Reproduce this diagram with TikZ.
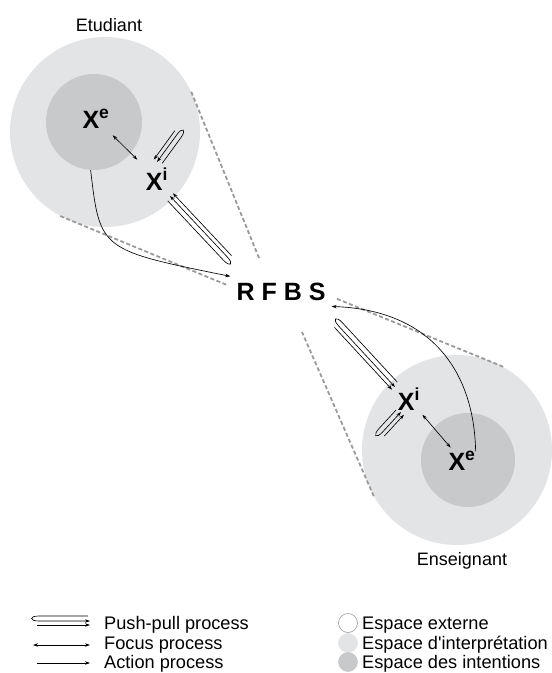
\documentclass[tikz,border=0pt]{standalone}
\usepackage{fontspec}
\setmainfont{Liberation Sans}
\usetikzlibrary{arrows.meta,calc}
\definecolor{interp}{HTML}{E3E4E6}
\definecolor{intent}{HTML}{C8C9CB}
\definecolor{conegray}{HTML}{9A9A9A}
% loop + straight line, from #1 (loop end) to #2 (arrow end)
\newcommand{\pushpull}[2]{%
 \draw[flow,->] ($(#2)!2pt!(#1)!5pt!-90:(#1)$) -- ($(#1)!7pt!(#2)!5pt!90:(#2)$)
   .. controls ($(#1)!-3pt!(#2)!5pt!90:(#2)$) and ($(#1)!-3pt!(#2)$) .. ($(#1)!7pt!(#2)$) -- (#2);
 \draw[flow,->] ($(#1)!5pt!(#2)!4pt!-90:(#2)$) -- ($(#2)!4pt!90:(#1)$);}

\begin{document}
\begin{tikzpicture}[x=1pt,y=-1pt, >={Stealth[length=5pt,width=3.4pt]},
 flow/.style={line width=.65pt},
 focus/.style={flow,<->}, action/.style={flow,->},
 conic/.style={draw=conegray,line width=1.8pt,dash pattern=on 4pt off 2.5pt},
 space/.style={circle,inner sep=0pt,minimum size=#1},
 var/.style={font=\fontsize{25}{25}\selectfont\bfseries,inner sep=0pt,anchor=base},
 role/.style={font=\fontsize{18}{20}\selectfont,inner sep=0pt},
 legtext/.style={font=\fontsize{18.2}{20}\selectfont,inner sep=0pt,anchor=base west}]
\useasboundingbox (0,0) rectangle (552,673);
% spaces
\node[space=190,fill=interp] (extA) at (105,132) {};
\node[space=96,fill=intent] (inA) at (94,122) {};
\node[space=190,fill=interp] (extB) at (457,450) {};
\node[space=94,fill=intent] (inB) at (468,460) {};
\node[role,anchor=base] (etu) at (109,31.5) {Etudiant};
\node[role,anchor=base] (ens) at (462,565) {Enseignant};
\node[var] (xeA) at (96,128) {X\textsuperscript{e}};
\node[var] (xiA) at (157,190) {X\textsuperscript{i}};
\node[var] (xeB) at (462,470) {X\textsuperscript{e}};
\node[var] (xiB) at (409,410) {X\textsuperscript{i}};
\node[font=\fontsize{25}{25}\selectfont\bfseries,inner sep=6pt,anchor=base] (rfbs) at (281,300) {R F B S};
% cone of the shared milieu
\coordinate (coneA1) at (259,258);
\coordinate (coneA2) at (227,285);
\coordinate (coneB1) at (335,298);
\coordinate (coneB2) at (302,332);
\draw[conic] (extA.25.5) -- (coneA1);
\draw[conic] (extA.242.6) -- (coneA2);
\draw[conic] (extB.61.5) -- (coneB1);
\draw[conic] (extB.209.5) -- (coneB2);
% processes
\draw[focus,shorten <=10pt,shorten >=12pt] (xeA) -- (xiA);
\draw[focus,shorten <=6pt,shorten >=5pt] (xiB) -- (xeB);
\draw[action] (inA.266) .. controls (100,250) .. (rfbs.north west);
\draw[action] (xeB.north east) .. controls (474,370) and (430,310) .. (rfbs.south east);
\coordinate (ppA1) at (232,262); \coordinate (ppA2) at (170,196);
\coordinate (ppA3) at (181,129); \coordinate (ppA4) at (157,162);
\coordinate (ppB1) at (334,321); \coordinate (ppB2) at (395,387);
\coordinate (ppB3) at (378,437); \coordinate (ppB4) at (401,412);
\pushpull{ppA1}{ppA2}
\pushpull{ppA3}{ppA4}
\pushpull{ppB1}{ppB2}
\pushpull{ppB3}{ppB4}
% legend
\coordinate (legP1) at (32,621); \coordinate (legP2) at (90,621);
\coordinate (legF1) at (33,645); \coordinate (legF2) at (90,645);
\coordinate (legA1) at (37,663); \coordinate (legA2) at (90,663);
\pushpull{legP1}{legP2}
\draw[focus] (legF1) -- (legF2);
\draw[action] (legA1) -- (legA2);
\node[legtext] (legPt) at (104,629) {Push-pull process};
\node[legtext] (legFt) at (104,649) {Focus process};
\node[legtext] (legAt) at (104,668.5) {Action process};
\foreach \y/\c/\d/\t [count=\i] in {623/white/conegray/Espace externe,
 643/interp/interp/Espace d\textquotesingle interprétation,
 662/intent/intent/Espace des intentions}
 {\node[space=19,fill=\c,draw=\d,line width=.6pt] (legS\i) at (348,\y) {};
  \node[legtext] (legSt\i) at (362,\y+6.5) {\t};}
\end{tikzpicture}
\end{document}
